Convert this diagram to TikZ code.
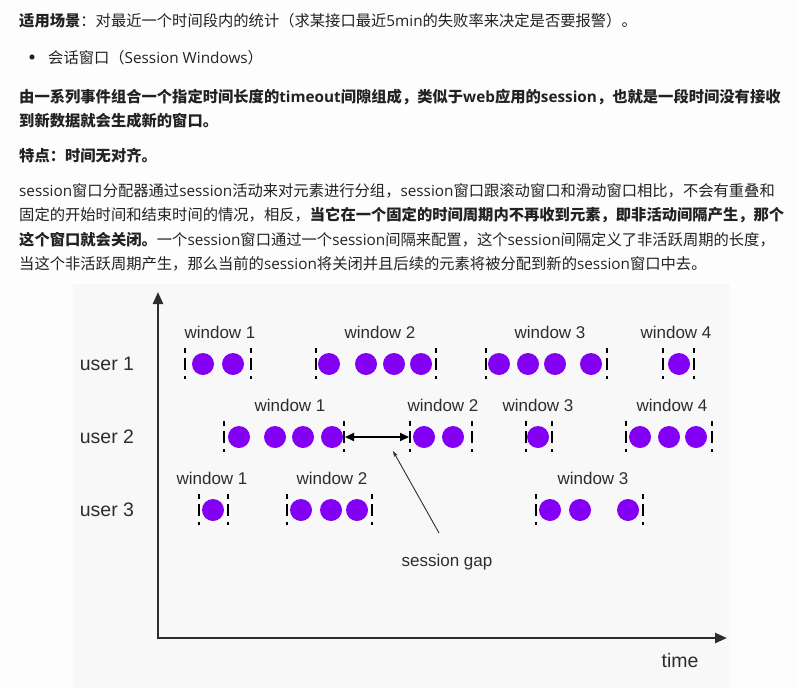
\documentclass[tikz,border=0pt]{standalone}
\usepackage{fontspec}
\setmainfont{Noto Sans CJK SC}
\newfontfamily\latf{Open Sans}
\newfontfamily\diagf{Liberation Sans}
\usetikzlibrary{arrows.meta}
\definecolor{txt}{RGB}{34,34,34}
\definecolor{pagebg}{RGB}{253,253,253}
\definecolor{panel}{RGB}{248,248,248}
\definecolor{dotc}{RGB}{132,0,245}
\definecolor{axisc}{RGB}{45,45,45}
\newcommand\en[1]{{\latf #1}}
\tikzset{
  para/.style={anchor=base west, inner sep=0pt, font=\fontsize{15.3}{18}\selectfont, text=txt},
  dot/.style={circle, fill=dotc, inner sep=0pt, minimum size=22pt},
  border/.style={line width=2pt, draw=black, dash pattern=on 5pt off 5pt on 12pt off 6pt on 3pt},
  winlabel/.style={font=\diagf\fontsize{17}{20}\selectfont, text=axisc, inner sep=0pt},
  userlabel/.style={font=\diagf\fontsize{19.5}{22}\selectfont, text=axisc, inner sep=0pt},
  axisline/.style={line width=2.3pt, draw=axisc},
}
\newcommand\sesswin[6]{%
  \coordinate (#1L) at (#2,#4);
  \coordinate (#1R) at (#3,#4);
  \draw[border] ([yshift=16pt]#1L) -- ([yshift=-17pt]#1L);
  \draw[border] ([yshift=16pt]#1R) -- ([yshift=-17pt]#1R);
  \node[winlabel] (#1T) at (#5,{#4-32}) {#6};
}
\begin{document}
\begin{tikzpicture}[x=1pt,y=-1pt]
\useasboundingbox (0,0) rectangle (797,688);
\fill[pagebg] (0,0) rectangle (797,688);
% text
\node[para] (t1) at (19,27) {\textbf{适用场景}：对最近一个时间段内的统计（求某接口最近\en{5min}的失败率来决定是否要报警）。};
\fill[txt] (32,57) circle (2.6pt);
\node[para] (t2) at (48,63) {会话窗口（\en{Session Windows}）};
\node[para] (t3) at (19,102) {\bfseries 由一系列事件组合一个指定时间长度的\en{timeout}间隙组成，类似于\en{web}应用的\en{session}，也就是一段时间没有接收};
\node[para] (t4) at (19,126) {\bfseries 到新数据就会生成新的窗口。};
\node[para] (t5) at (19,161) {\bfseries 特点：时间无对齐。};
\node[para] (t6) at (19,196) {\en{session}窗口分配器通过\en{session}活动来对元素进行分组，\en{session}窗口跟滚动窗口和滑动窗口相比，不会有重叠和};
\node[para] (t7) at (19,220.5) {固定的开始时间和结束时间的情况，相反，\textbf{当它在一个固定的时间周期内不再收到元素，即非活动间隔产生，那个}};
\node[para] (t8) at (19,245) {\textbf{这个窗口就会关闭。}一个\en{session}窗口通过一个\en{session}间隔来配置，这个\en{session}间隔定义了非活跃周期的长度，};
\node[para] (t9) at (19,269.5) {当这个非活跃周期产生，那么当前的\en{session}将关闭并且后续的元素将被分配到新的\en{session}窗口中去。};
% panel
\fill[panel] (73,284) rectangle (730,688);
% axes
\coordinate (ytop) at (158,292);
\coordinate (xend) at (727,638);
\draw[axisline, {Triangle[length=12pt,width=10pt]}-{Triangle[length=12pt,width=10pt]}] (ytop) |- (xend);
\node[userlabel] (time) at (680,661) {time};
% user labels
\node[userlabel] (user1) at (107,364) {user 1};
\node[userlabel] (user2) at (107,437) {user 2};
\node[userlabel] (user3) at (107,510) {user 3};
% row 1
\sesswin{aA}{185}{251}{364}{220}{window 1}
\sesswin{aB}{316}{436}{364}{380}{window 2}
\sesswin{aC}{486}{607}{364}{550}{window 3}
\sesswin{aD}{663}{694}{364}{676}{window 4}
\foreach \x [count=\i] in {203,233} \node[dot] (a1d\i) at (\x,364) {};
\foreach \x [count=\i] in {329,366,394,421} \node[dot] (a2d\i) at (\x,364) {};
\foreach \x [count=\i] in {499,528,555,591} \node[dot] (a3d\i) at (\x,364) {};
\foreach \x [count=\i] in {679} \node[dot] (a4d\i) at (\x,364) {};
% row 2
\sesswin{bA}{224}{344}{437}{290}{window 1}
\sesswin{bB}{410}{472}{437}{443}{window 2}
\sesswin{bC}{526}{552}{437}{538}{window 3}
\sesswin{bD}{626}{712}{437}{672}{window 4}
\foreach \x [count=\i] in {239,275,303,332} \node[dot] (b1d\i) at (\x,437) {};
\foreach \x [count=\i] in {424,453} \node[dot] (b2d\i) at (\x,437) {};
\foreach \x [count=\i] in {538} \node[dot] (b3d\i) at (\x,437) {};
\foreach \x [count=\i] in {640,669,696} \node[dot] (b4d\i) at (\x,437) {};
% row 3
\sesswin{cA}{199}{228}{510}{212}{window 1}
\sesswin{cB}{287}{372}{510}{332}{window 2}
\sesswin{cC}{536}{643}{510}{593}{window 3}
\foreach \x [count=\i] in {213} \node[dot] (c1d\i) at (\x,510) {};
\foreach \x [count=\i] in {301,331,357} \node[dot] (c2d\i) at (\x,510) {};
\foreach \x [count=\i] in {550,580,628} \node[dot] (c3d\i) at (\x,510) {};
% session gap
\draw[line width=2pt, {Triangle[length=9pt,width=8pt]}-{Triangle[length=9pt,width=8pt]}, shorten <=1pt, shorten >=1pt] (bAR) -- (bBL);
\node[winlabel] (gap) at (447,562) {session gap};
\coordinate (gs) at (439,533);
\coordinate (gt) at (393,451);
\draw[line width=0.9pt, draw=axisc, -{Stealth[length=6pt,width=4pt]}] (gs) -- (gt);
\end{tikzpicture}
\end{document}
